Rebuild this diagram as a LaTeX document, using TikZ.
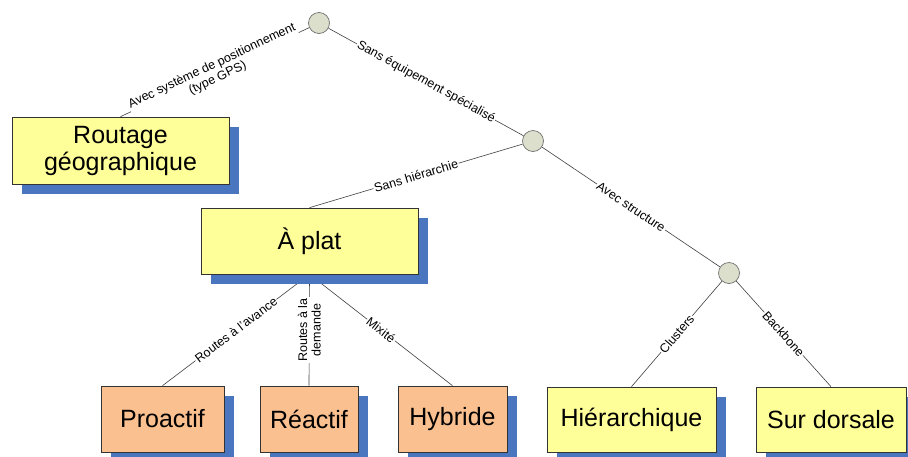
\documentclass[tikz,border=0pt]{standalone}
\usepackage{fontspec}
\setmainfont{Liberation Sans}
\usetikzlibrary{shadows,backgrounds}
\definecolor{boxyellow}{HTML}{FFFF99}
\definecolor{boxorange}{HTML}{FAC090}
\definecolor{shadowblue}{HTML}{4A76C0}
\definecolor{circfill}{HTML}{DCDFCC}
\definecolor{circline}{HTML}{707070}
\definecolor{linkcol}{HTML}{404040}
\begin{document}
\begin{tikzpicture}[x=1pt,y=-1pt,
  box/.style={draw=black!80, line width=0.7pt, rectangle, inner sep=0pt,
    font=\fontsize{25}{27}\selectfont, align=center,
    drop shadow={shadow xshift=10pt, shadow yshift=-10pt, fill=shadowblue, opacity=1}},
  ybox/.style={box, fill=boxyellow},
  obox/.style={box, fill=boxorange},
  junction/.style={circle, draw=circline, fill=circfill, line width=0.7pt, minimum size=21pt, inner sep=0pt},
  link/.style={draw=linkcol, line width=0.6pt},
  lbl/.style={fill=white, inner sep=1pt, font=\fontsize{12.5}{13.5}\selectfont, align=center, text=black}
]
\useasboundingbox (0,0) rectangle (908,456);

% junctions
\node[junction] (c1) at (319,23) {};
\node[junction] (c2) at (533,141) {};
\node[junction] (c3) at (729,273) {};

% boxes
\node[ybox, minimum width=217pt, minimum height=67pt] (rg) at (120.5,150.5) {Routage\\géographique};
\node[ybox, minimum width=217pt, minimum height=66pt] (plat) at (309.5,241) {À plat};
\node[obox, minimum width=123pt, minimum height=66pt] (pro) at (162.5,419) {Proactif};
\node[obox, minimum width=98pt, minimum height=66pt] (rea) at (309,419) {Réactif};
\node[obox, minimum width=109pt, minimum height=66pt] (hyb) at (452.5,419) {Hybride};
\node[ybox, minimum width=169pt, minimum height=65pt] (hie) at (631.5,419.5) {Hiérarchique};
\node[ybox, minimum width=150pt, minimum height=65pt] (dor) at (831,419.5) {Sur dorsale};

% connectors
\begin{scope}[on background layer]
\fill[white] (0,0) rectangle (908,456);
\draw[link] (c1) -- node[lbl, sloped] {Avec système de positionnement\\(type GPS)} (rg.north);
\draw[link] (c1) -- node[lbl, sloped] {Sans équipement spécialisé} (c2);
\draw[link] (c2) -- node[lbl, sloped] {Sans hiérarchie} (plat.north);
\draw[link] (c2) -- node[lbl, sloped] {Avec structure} (c3);
\draw[link] (c3) -- node[lbl, sloped] {Clusters} (hie.north);
\draw[link] (c3) -- node[lbl, sloped] {Backbone} (dor.north);
\draw[link] (plat.south) -- node[lbl, sloped] {Routes à l'avance} (pro.north);
\draw[link] (plat.south) -- node[lbl, rotate=90] {Routes à la\\demande} (rea.north);
\draw[link] (plat.south) -- node[lbl, sloped] {Mixité} (hyb.north);
\end{scope}
\end{tikzpicture}
\end{document}
